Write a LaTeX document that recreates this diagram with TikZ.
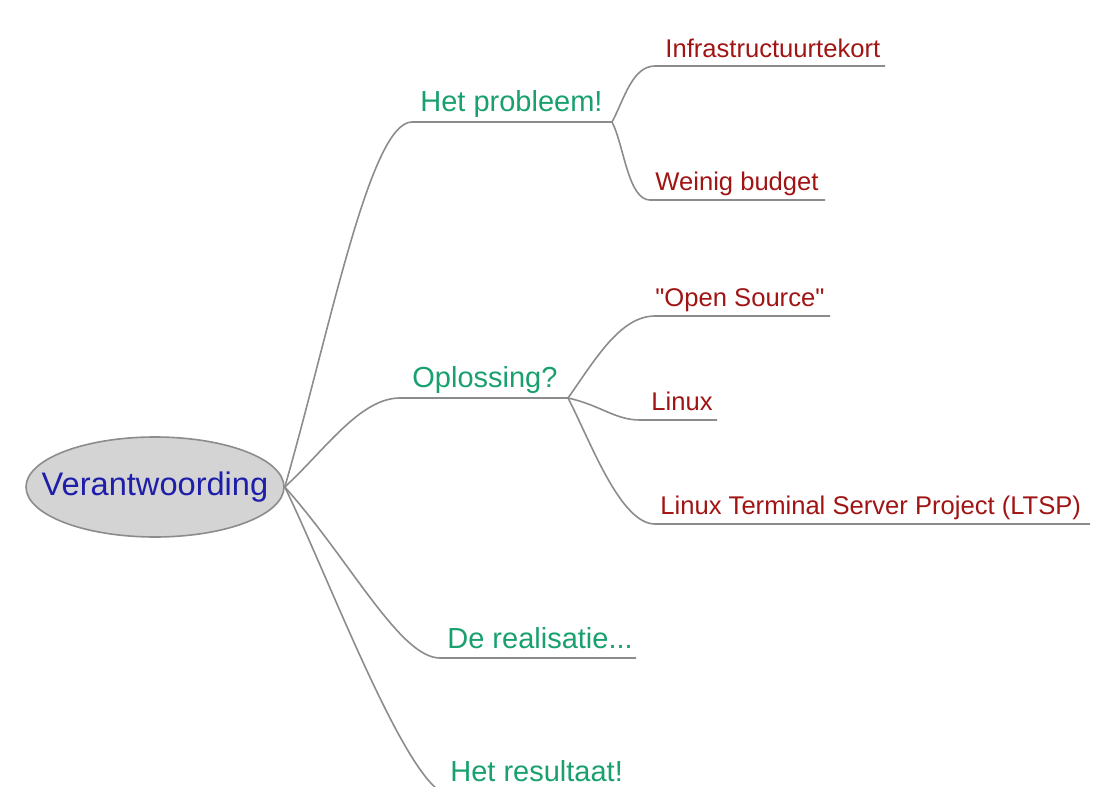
\documentclass[tikz,border=0pt]{standalone}
\usepackage{fontspec}
\setmainfont{Liberation Sans}
\usepackage{tikz}
\usetikzlibrary{shapes.geometric}
\definecolor{topicgreen}{RGB}{25,160,110}
\definecolor{subred}{RGB}{160,20,20}
\definecolor{rootblue}{RGB}{30,30,170}
\definecolor{branchgray}{RGB}{140,140,140}
\tikzstyle{root} = [ellipse, minimum width=129pt, minimum height=50pt, inner xsep=-11.5pt, inner ysep=0pt, draw=branchgray, line width=0.8pt, fill=black!17, text=rootblue, font=\fontsize{16.3}{18}\selectfont]
\tikzstyle{topic} = [anchor=base west, inner sep=0pt, text=topicgreen, font=\fontsize{14.5}{16}\selectfont]
\tikzstyle{sub} = [anchor=base west, inner sep=0pt, text=subred, font=\fontsize{12.8}{15}\selectfont]
\tikzstyle{branch} = [line width=0.8pt, draw=branchgray]

\begin{document}
\begin{tikzpicture}[x=0.5pt, y=-0.5pt]
        \useasboundingbox (0,0) rectangle (1104,787);
        \clip (0,0) rectangle (1104,787);
        \node (centre) [root] at (155,487) {Verantwoording};
        % hoofdtakken
        \node (probleem) [topic] at (420,112) {Het probleem!};
        \node (oplossing) [topic] at (412,387) {Oplossing?};
        \node (realisatie) [topic] at (447,648) {De realisatie...};
        \node (resultaat) [topic] at (450,781) {Het resultaat!};
        \coordinate (probleemL) at (412,122); \coordinate (probleemR) at (612,122);
        \coordinate (oplossingL) at (400,398); \coordinate (oplossingR) at (568,398);
        \coordinate (realisatieL) at (440,658); \coordinate (realisatieR) at (636,658);
        \coordinate (resultaatL) at (450,795); \coordinate (resultaatR) at (640,795);
        % subtakken
        \node (tekort) [sub] at (665,57) {Infrastructuurtekort};
        \node (budget) [sub] at (655,190) {Weinig budget};
        \node (opensource) [sub] at (655,306) {\textquotedbl Open Source\textquotedbl};
        \node (linux) [sub] at (651,410) {Linux};
        \node (ltsp) [sub] at (660,514) {Linux Terminal Server Project (LTSP)};
        \coordinate (tekortL) at (655,66); \coordinate (tekortR) at (885,66);
        \coordinate (budgetL) at (650,200); \coordinate (budgetR) at (825,200);
        \coordinate (opensourceL) at (655,316); \coordinate (opensourceR) at (830,316);
        \coordinate (linuxL) at (640,420); \coordinate (linuxR) at (717,420);
        \coordinate (ltspL) at (655,524); \coordinate (ltspR) at (1090,524);
        \draw [branch] (centre.east) .. controls (330,330) and (370,122) .. (probleemL) -- (probleemR);
        \draw [branch] (centre.east) .. controls (325,450) and (360,398) .. (oplossingL) -- (oplossingR);
        \draw [branch] (centre.east) .. controls (350,560) and (400,658) .. (realisatieL) -- (realisatieR);
        \draw [branch] (centre.east) .. controls (330,580) and (410,795) .. (resultaatL) -- (resultaatR);
        \draw [branch] (probleemR) .. controls (624,100) and (632,66) .. (tekortL) -- (tekortR);
        \draw [branch] (probleemR) .. controls (624,145) and (628,200) .. (budgetL) -- (budgetR);
        \draw [branch] (oplossingR) .. controls (595,360) and (620,316) .. (opensourceL) -- (opensourceR);
        \draw [branch] (oplossingR) .. controls (600,405) and (615,420) .. (linuxL) -- (linuxR);
        \draw [branch] (oplossingR) .. controls (590,440) and (620,524) .. (ltspL) -- (ltspR);
    \end{tikzpicture}
\end{document}
